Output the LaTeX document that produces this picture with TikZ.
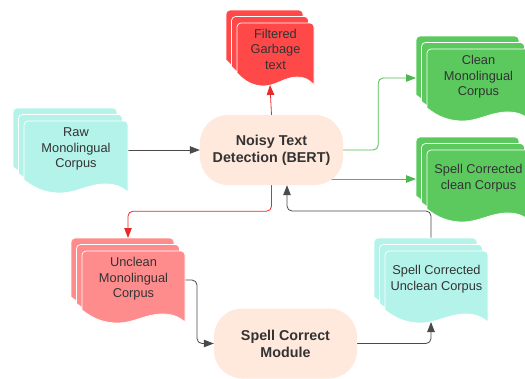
\documentclass[tikz,border=0pt]{standalone}
\usepackage{fontspec}
\setmainfont{Liberation Sans}
\usepackage{tikz}
\usetikzlibrary{arrows.meta,calc,backgrounds}
\definecolor{rawCol}{HTML}{B4F3EA}
\definecolor{garbCol}{HTML}{FF4848}
\definecolor{goodCol}{HTML}{5CC95F}
\definecolor{badCol}{HTML}{FF8C8C}
\definecolor{pillCol}{HTML}{FFE8DC}
\definecolor{txtCol}{HTML}{333333}
\definecolor{lineCol}{HTML}{4A4A4A}
\definecolor{goodLine}{HTML}{4DB851}
\definecolor{garbLine}{HTML}{E52B2B}
\tikzset{
  pill/.style={fill=pillCol, rounded corners=28pt, minimum width=143pt, minimum height=70pt,
               font=\fontsize{14.3}{17}\selectfont\bfseries, text=txtCol, align=center},
  doctext/.style={font=\fontsize{12.8}{15.5}\selectfont, text=txtCol, align=center, inner sep=0pt},
  stackbox/.style={inner sep=0pt, outer sep=0pt},   % invisible box round a stack of pages
  layer/.style={draw=white, line width=0.7pt},
  flow/.style={-{Triangle[length=10pt,width=7.5pt]}, line width=0.8pt, rounded corners=5pt},
}
% one page: left, top, width, height, fill (y grows downwards)
\newcommand{\docshape}[5]{%
  \filldraw[layer, fill=#5, shift={(#1,#2)}]
    (0,#4-12) [rounded corners=4pt] -- (0,0) -- (#3,0) -- (#3,10) [sharp corners] -- (#3,#4)
    .. controls (0.93*#3,#4-6) and (0.87*#3,#4-8) .. (0.78*#3,#4-8)
    .. controls (0.62*#3,#4-8) and (0.5*#3,#4+1) .. (0.35*#3,#4+1)
    .. controls (0.2*#3,#4+1) and (0.1*#3,#4-4) .. (0,#4-12) -- cycle;}
% stack of three pages: name, front left, front top, width, height, fill, text
\newcommand{\docstack}[7]{%
  \foreach \k in {2,1,0}{\docshape{#2-5.5*\k}{#3-6.5*\k}{#4}{#5}{#6}}
  \node[doctext] (#1t) at (#2+#4/2, #3+0.22*#5+12.4) {#7};
  \node[stackbox, minimum width=#4+11, minimum height=#5+13] (#1) at (#2+#4/2-5.5, #3+#5/2-6.5) {};}

\begin{document}
\begin{tikzpicture}[x=1pt, y=-1pt]
  \useasboundingbox (0,0) rectangle (525,378);

  \docstack{raw}{24}{121}{104}{71}{rawCol}{Raw\\Monolingual\\Corpus}
  \docstack{filt}{237}{23}{77}{62}{garbCol}{Filtered\\Garbage\\text}
  \docstack{clean}{427}{49}{103}{71}{goodCol}{Clean\\Monolingual\\Corpus}
  \docstack{spclean}{427}{150}{103}{71}{goodCol}{Spell Corrected\\clean Corpus}
  \docstack{unclean}{82}{251}{103}{71}{badCol}{Unclean\\Monolingual\\Corpus}
  \docstack{spunclean}{385}{251}{103}{71}{rawCol}{Spell Corrected\\Unclean Corpus}

  \node[pill] (noisy) at (271.5,150) {Noisy Text\\Detection (BERT)};
  \node[pill] (spell) at (285.5,343.5) {Spell Correct\\Module};

  \begin{scope}[on background layer]
    \draw[flow, lineCol] (raw.east) -- (noisy.west);
    \draw[flow, garbLine] (noisy.north) -- (filt.south);
    \draw[flow, goodLine] (noisy.east) -- ++(35,0) |- (clean.west);
    \draw[flow, goodLine] (noisy.center |- spclean.west) -- (spclean.west);
    \draw[flow, garbLine] (noisy.south) -- ++(0,26) -| (unclean.north);
    \draw[flow, lineCol] (unclean.east) -- ++(12,0) |- (spell.west);
    \draw[flow, lineCol] (spell.east) -| (spunclean.south);
    \draw[flow, lineCol] (spunclean.north) -- ++(0,-27) -| ([xshift=15.5pt]noisy.south);
  \end{scope}
\end{tikzpicture}
\end{document}
